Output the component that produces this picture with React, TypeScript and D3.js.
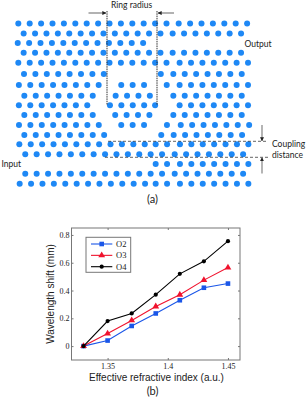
import * as d3 from "d3";
import { useEffect, useRef } from "react";

// chart (b) values
const indexValues = [1.33, 1.35, 1.37, 1.39, 1.41, 1.43, 1.45];
const o2Values = [0, 0.04, 0.145, 0.235, 0.33, 0.42, 0.45];
const o3Values = [0, 0.09, 0.185, 0.285, 0.37, 0.475, 0.565];
const o4Values = [0, 0.18, 0.235, 0.37, 0.52, 0.61, 0.755];
const seriesNames = ["O2", "O3", "O4"];
const seriesColors = ["#1a56e8", "#f0122d", "#000000"];
const xTicks = [1.35, 1.4, 1.45];
const yTicks = [0, 0.2, 0.4, 0.6, 0.8];

// lattice of holes in panel (a), in lattice pitches: row position, then [first column, count] runs
const latticeRows = [0, 1, 1.95, 2.92, 3.92, 5.05, 6.15, 7.22, 8.18, 9.15, 10.15, 11.15, 12.08, 13.08, 14.05, 15.02, 16.02];
const latticeRuns = [
  [[0, 14], [14.07, 7]],
  [[0.47, 13], [13.54, 7]],
  [[-0.05, 12]],
  [[0.47, 13], [13.54, 7]],
  [[0, 14], [14.15, 7]],
  [[0.5, 8], [12.5, 1], [13.6, 7]],
  [[0.05, 8], [9.03, 3], [13.02, 1], [14.15, 7]],
  [[0.53, 7], [8.54, 4], [13.6, 7]],
  [[0.05, 7], [8.04, 4], [12, 1], [14.15, 7]],
  [[0.53, 7], [8.5, 4], [13.6, 7]],
  [[0.06, 8], [9.03, 3], [13.04, 1], [14.25, 7]],
  [[0.53, 8], [12.54, 1], [13.63, 7]],
  [[0.09, 12], [12.05, 2], [14.18, 7]],
  [[0.61, 13], [13.72, 7]],
  [[12.05, 2], [14.18, 7]],
  [[0.61, 13], [13.72, 7]],
  [[0.12, 12], [12.05, 2], [14.18, 7]],
];

const sans = "Lato, sans-serif";
const arial = "'Liberation Sans', Arial, sans-serif";
const serif = "'Liberation Serif', 'Times New Roman', serif";

const App = () => {
  const ref = useRef<SVGSVGElement>(null);

  useEffect(() => {
    const svg = d3.select(ref.current);
    svg.selectAll("*").remove();

    // ---- panel (a) ----
    const latX = d3.scaleLinear().domain([0, 10]).range([18.3, 132.3]);
    const latY = d3.scaleLinear().domain([0, 10]).range([23.5, 123.5]);

    const holes: { col: number; row: number }[] = [];
    latticeRuns.forEach((runs, i) => {
      runs.forEach(([first, count]) => {
        d3.range(count).forEach((k) => holes.push({ col: first + k, row: latticeRows[i] }));
      });
    });
    svg
      .append("g")
      .selectAll("circle")
      .data(holes)
      .join("circle")
      .attr("cx", (d) => latX(d.col))
      .attr("cy", (d) => latY(d.row))
      .attr("r", 3)
      .style("fill", "#1e88f5");

    const defs = svg.append("defs");
    defs
      .append("marker")
      .attr("id", "head")
      .attr("viewBox", "0 0 6 6")
      .attr("refX", 5.5)
      .attr("refY", 3)
      .attr("markerWidth", 4)
      .attr("markerHeight", 4)
      .attr("markerUnits", "userSpaceOnUse")
      .attr("orient", "auto")
      .append("path")
      .attr("d", "M0,0L6,3L0,6Z")
      .style("fill", "#222");

    const line = (x1: number, y1: number, x2: number, y2: number, color: string, width: number, dash?: string, arrow?: boolean) => {
      const l = svg
        .append("line")
        .attr("x1", x1)
        .attr("y1", y1)
        .attr("x2", x2)
        .attr("y2", y2)
        .style("stroke", color)
        .style("stroke-width", width);
      if (dash) l.style("stroke-dasharray", dash);
      if (arrow) l.attr("marker-end", "url(#head)");
    };
    line(107, 11, 107, 105, "#333", 1, "1.5 0.8");
    line(157, 11, 157, 105, "#333", 1, "1.5 0.8");
    line(88.5, 13, 106, 13, "#222", 0.7, undefined, true);
    line(174, 13, 158, 13, "#222", 0.7, undefined, true);
    line(108, 141.3, 268, 141.3, "#222", 0.7, "3 2");
    line(105, 157.3, 268, 157.3, "#222", 0.7, "3 2");
    line(262, 125, 262, 141, "#777", 1.1, undefined, true);
    line(262, 173.5, 262, 157.5, "#777", 1.1, undefined, true);

    const label = (text: string, x: number, y: number, size: number, family: string, anchor = "start") =>
      svg
        .append("text")
        .attr("x", x)
        .attr("y", y)
        .attr("text-anchor", anchor)
        .style("font-family", family)
        .style("font-size", `${size}px`)
        .style("fill", "#222")
        .text(text);
    label("Ring radius", 111, 7.5, 8.5, sans);
    label("Output", 244.5, 46.5, 8.5, sans);
    label("Coupling", 272, 147, 8.5, sans);
    label("distance", 272, 158, 8.5, sans);
    label("Input", 1.5, 167, 8.5, sans);
    label("(a)", 152.5, 203, 11, sans, "middle");

    // ---- panel (b) ----
    const x = d3.scaleLinear().domain([1.32, 1.46]).range([71.5, 240]);
    const y = d3.scaleLinear().domain([-0.1, 0.85]).range([360, 228]);

    svg
      .append("rect")
      .attr("x", 71.5)
      .attr("y", 228)
      .attr("width", 168.5)
      .attr("height", 132)
      .style("fill", "none")
      .style("stroke", "#777")
      .style("stroke-width", 1);

    const styleAxis = (g: d3.Selection<SVGGElement, unknown, null, undefined>) => {
      g.select(".domain").remove();
      g.selectAll("line").style("stroke", "#777");
      g.selectAll("text")
        .style("font-family", serif)
        .style("font-size", "8px")
        .style("fill", "#222");
    };
    const fmt = (d: d3.NumberValue) => `${+d}`;
    svg
      .append("g")
      .attr("transform", "translate(0,360)")
      .call(d3.axisBottom(x).tickValues(xTicks).tickFormat(fmt).tickSizeInner(-2).tickPadding(3.5))
      .call(styleAxis);
    svg
      .append("g")
      .attr("transform", "translate(0,228)")
      .call(d3.axisTop(x).tickValues(xTicks).tickFormat(() => "").tickSizeInner(-2))
      .call(styleAxis);
    svg
      .append("g")
      .attr("transform", "translate(71.5,0)")
      .call(d3.axisLeft(y).tickValues(yTicks).tickFormat(fmt).tickSizeInner(-2).tickPadding(2))
      .call(styleAxis);
    svg
      .append("g")
      .attr("transform", "translate(240,0)")
      .call(d3.axisRight(y).tickValues(yTicks).tickFormat(() => "").tickSizeInner(-2))
      .call(styleAxis);

    const path = d3
      .line<number>()
      .x((_, i) => x(indexValues[i]))
      .y((d) => y(d));

    const drawMarker = (g: d3.Selection<any, any, any, any>, s: number, px: number, py: number) => {
      if (s === 0) {
        g.append("rect").attr("x", px - 2.3).attr("y", py - 2.3).attr("width", 4.6).attr("height", 4.6).style("fill", seriesColors[s]);
      } else if (s === 1) {
        g.append("path")
          .attr("d", d3.symbol(d3.symbolTriangle, 20)())
          .attr("transform", `translate(${px},${py})`)
          .style("fill", seriesColors[s]);
      } else {
        g.append("circle").attr("cx", px).attr("cy", py).attr("r", 2.1).style("fill", seriesColors[s]);
      }
    };

    [o2Values, o3Values, o4Values].forEach((values, s) => {
      const g = svg.append("g");
      g.append("path")
        .attr("d", path(values))
        .style("fill", "none")
        .style("stroke", seriesColors[s])
        .style("stroke-width", 1.1);
      values.forEach((v, i) => drawMarker(g, s, x(indexValues[i]), y(v)));
    });

    // legend
    const legend = svg.append("g");
    legend
      .append("rect")
      .attr("x", 86)
      .attr("y", 237.3)
      .attr("width", 44.7)
      .attr("height", 35)
      .style("fill", "#fff")
      .style("stroke", "#777")
      .style("stroke-width", 1);
    const legendY = d3.scalePoint<string>().domain(seriesNames).range([244, 266.7]);
    seriesNames.forEach((name, s) => {
      const ly = legendY(name) as number;
      legend
        .append("line")
        .attr("x1", 91)
        .attr("x2", 112.3)
        .attr("y1", ly)
        .attr("y2", ly)
        .style("stroke", seriesColors[s])
        .style("stroke-width", 1.1);
      drawMarker(legend, s, 101.7, ly);
      legend
        .append("text")
        .attr("x", 116)
        .attr("y", ly + 3)
        .style("font-family", serif)
        .style("font-size", "8.5px")
        .style("fill", "#222")
        .text(name);
    });

    label("Effective refractive index (a.u.)", 156.5, 380.5, 10, arial, "middle");
    label("(b)", 152.5, 395, 11, sans, "middle");
    label("Wavelength shift (mm)", 0, 0, 10, arial, "middle").attr("transform", "translate(54,294) rotate(-90)");
  }, []);

  return <svg ref={ref} width={306} height={399} style={{ position: "absolute", left: 0, top: 0 }} />;
};

export default App;
